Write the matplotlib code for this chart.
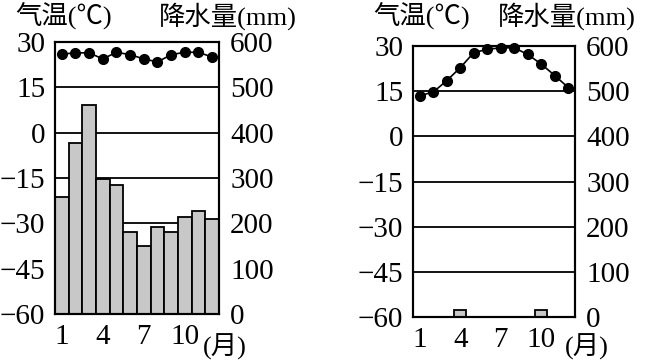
import matplotlib
matplotlib.use("Agg")
import matplotlib.pyplot as plt

plt.rcParams['font.family'] = ['Liberation Serif', 'Noto Sans CJK SC']
plt.rcParams['axes.unicode_minus'] = True

months = list(range(1, 13))
month_ticks = [1, 4, 7, 10]
temp_ticks = [30, 15, 0, -15, -30, -45, -60]
rain_ticks = [600, 500, 400, 300, 200, 100, 0]

# left station
temp_a = [26, 26.4, 26.4, 24.4, 26.6, 25.8, 24.4, 23.4, 25.8, 26.6, 26.6, 25]
rain_a = [258, 377, 460, 298, 285, 180, 150, 193, 180, 213, 228, 209]

# right station
temp_b = [13.5, 14.7, 18.5, 22.8, 27.8, 28.9, 29.4, 29.4, 27.2, 24, 20.2, 16.2]
rain_b = [0, 0, 0, 15, 0, 0, 0, 0, 0, 15, 0, 0]

NUM_SIZE = 21


def draw_chart(fig, rect, temps, rains, bar_width):
    ax_p = fig.add_axes(rect)
    ax_t = ax_p.twinx()

    ax_p.set_xlim(0.5, 12.5)
    ax_p.set_ylim(0, 600)
    for v in rain_ticks[1:-1]:
        ax_p.axhline(v, color='black', lw=1.3, zorder=0)
    ax_p.bar(months, rains, width=bar_width, color='#c8c8c8',
             edgecolor='black', linewidth=1.3, zorder=2)
    ax_p.yaxis.tick_right()
    ax_p.set_yticks(rain_ticks)
    ax_p.set_xticks(month_ticks)
    ax_p.tick_params(axis='x', length=0, labelsize=NUM_SIZE, pad=7)
    ax_p.tick_params(axis='y', length=0, labelsize=NUM_SIZE, pad=8)

    ax_t.set_ylim(-60, 30)
    ax_t.yaxis.tick_left()
    ax_t.set_yticks(temp_ticks)
    ax_t.set_yticklabels([str(t).replace('-', '\u2212') for t in temp_ticks])
    ax_t.tick_params(axis='y', length=0, labelsize=NUM_SIZE, pad=7)
    ax_t.plot(months, temps, color='black', lw=1.2, marker='o', ms=7,
              clip_on=False, zorder=3)
    for ax in (ax_p, ax_t):
        for s in ax.spines.values():
            s.set_linewidth(1.5)
            s.set_color('black')
    return ax_p, ax_t


fig = plt.figure(figsize=(6.46, 3.62), dpi=100)

draw_chart(fig, [0.0851, 0.1326, 0.2539, 0.7514], temp_a, rain_a, 1.0)
draw_chart(fig, [0.6393, 0.1243, 0.2508, 0.7486], temp_b, rain_b, 0.9)

# axis captions
CAP_SIZE = 19
fig.text(15 / 646, 1 - 16 / 362, '气温(℃)', fontsize=CAP_SIZE, ha='left', va='center')
fig.text(159 / 646, 1 - 16 / 362, '降水量(mm)', fontsize=CAP_SIZE, ha='left', va='center')
fig.text(203 / 646, 1 - 347 / 362, '(月)', fontsize=CAP_SIZE, ha='left', va='center')
fig.text(373 / 646, 1 - 16 / 362, '气温(℃)', fontsize=CAP_SIZE, ha='left', va='center')
fig.text(498 / 646, 1 - 16 / 362, '降水量(mm)', fontsize=CAP_SIZE, ha='left', va='center')
fig.text(565 / 646, 1 - 347 / 362, '(月)', fontsize=CAP_SIZE, ha='left', va='center')

fig.savefig('out.png', dpi=100)
